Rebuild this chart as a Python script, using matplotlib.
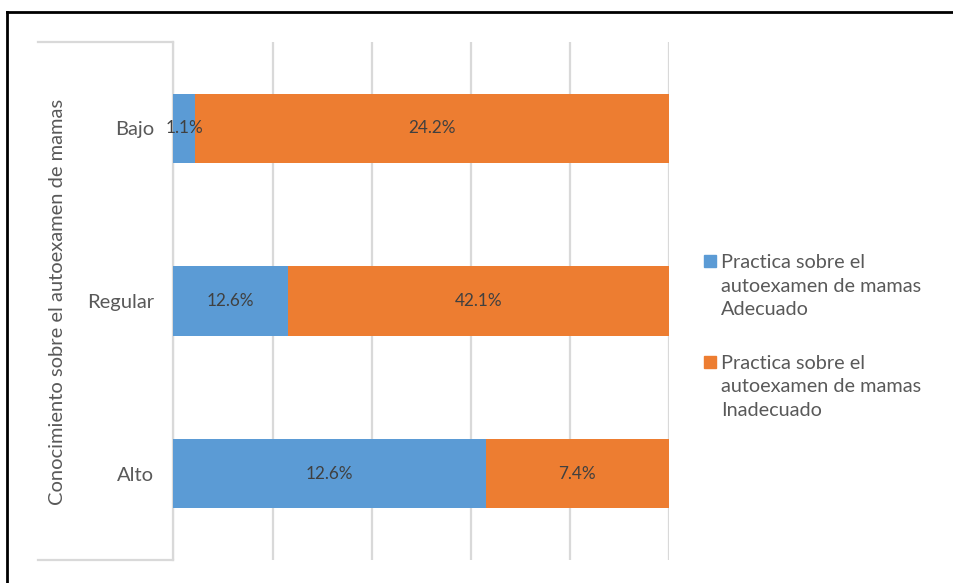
import matplotlib
matplotlib.use("Agg")
import matplotlib.pyplot as plt
from matplotlib.lines import Line2D
from matplotlib.patches import Rectangle
import numpy as np

plt.rcParams['font.family'] = ['Lato', 'DejaVu Sans']

categories = ["Alto", "Regular", "Bajo"]
adecuado = [12.6, 12.6, 1.1]
inadecuado = [7.4, 42.1, 24.2]
series_names = ["Practica sobre el\nautoexamen de mamas\nAdecuado",
                "Practica sobre el\nautoexamen de mamas\nInadecuado"]
ylabel = "Conocimiento sobre el autoexamen de mamas"

W, H = 954, 583
fig = plt.figure(figsize=(W / 100, H / 100), dpi=100)

def fx(x):
    return x / W

def fy(y):
    return 1 - y / H

left, right, top, bottom = 173.5, 669, 42, 560
ax = fig.add_axes([fx(left), fy(bottom), fx(right - left), (bottom - top) / H])

a = np.array(adecuado)
b = np.array(inadecuado)
tot = a + b
pa = a / tot * 100
pb = b / tot * 100
y = np.arange(len(categories))

blue = "#5B9BD5"
orange = "#ED7D31"
b1 = ax.barh(y, pa, height=0.4, color=blue, label=series_names[0], zorder=3)
b2 = ax.barh(y, pb, left=pa, height=0.4, color=orange, label=series_names[1], zorder=3)
ax.bar_label(b1, labels=[f"{v:.1f}%" for v in a], label_type='center',
             fontsize=12.3, color="#404040")
ax.bar_label(b2, labels=[f"{v:.1f}%" for v in b], label_type='center',
             fontsize=12.3, color="#404040")

ax.set_xlim(0, 100)
ax.set_ylim(-0.5, 2.5)
ax.set_xticks(np.arange(0, 101, 20))
ax.set_xticklabels([])
ax.tick_params(axis='x', length=0)
ax.grid(axis='x', color="#D9D9D9", linewidth=1.6, zorder=0)
ax.set_yticks(y)
ax.set_yticklabels(categories, fontsize=14.5, color="#595959")
ax.tick_params(axis='y', length=0, pad=14)
for s in ['top', 'right', 'bottom']:
    ax.spines[s].set_visible(False)
ax.spines['left'].set_color("#D9D9D9")
ax.spines['left'].set_linewidth(1.6)

fig.text(fx(58), fy(302), ylabel, rotation=90, ha='center', va='center',
         fontsize=14.5, color="#595959")

# category bracket lines
for yy in (top, bottom):
    fig.add_artist(Line2D([fx(38), fx(left)], [fy(yy), fy(yy)], color="#D9D9D9", linewidth=1.6))

# outer frame
fig.add_artist(Line2D([fx(7), 1.0], [fy(12), fy(12)], color="black", linewidth=2))
fig.add_artist(Line2D([fx(7), fx(7)], [fy(12), 0.0], color="black", linewidth=2))

# legend
for name, col, y0 in zip(series_names, [blue, orange], [261, 362]):
    fig.add_artist(Rectangle((fx(704), fy(y0 + 6)), fx(12), 12 / H, color=col))
    fig.text(fx(721), fy(y0 + 25), name, ha='left', va='center', fontsize=14.3,
             color="#595959", linespacing=1.45)

fig.savefig("out.png", dpi=100)
